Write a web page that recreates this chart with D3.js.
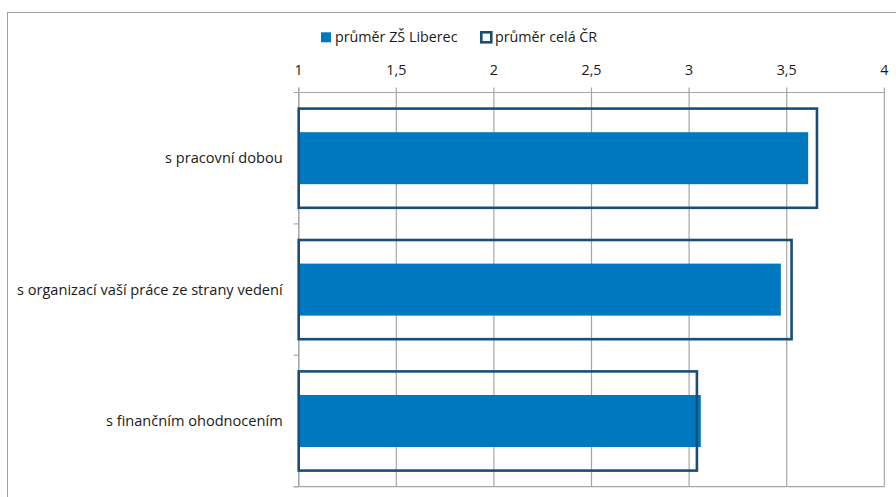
<!DOCTYPE html>
<html><head><meta charset="utf-8">
<script src="https://cdn.jsdelivr.net/npm/d3@7"></script>
<style>body{margin:0;background:#fff}svg{display:block}text{font-family:"Open Sans","Noto Sans",sans-serif;fill:#1a1a1a}</style>
</head><body>
<svg id="c" width="896" height="497"></svg>
<script>
const categories = ["s pracovní dobou", "s organizací vaší práce ze strany vedení", "s finančním ohodnocením"];
const liberec = [3.61, 3.47, 3.06];
const cr = [3.655, 3.525, 3.04];
const seriesNames = ["průměr ZŠ Liberec", "průměr celá ČR"];
const tickValues = [1, 1.5, 2, 2.5, 3, 3.5, 4];
const tickLabels = ["1", "1,5", "2", "2,5", "3", "3,5", "4"];

const svg = d3.select("#c");
const fillCol = "#0078C0", outCol = "#1A4E78", gridCol = "#A6A6A6";
const L = 298.7, R = 884.3, T = 92.5, B = 486.7;

const x = d3.scaleLinear().domain([1, 4]).range([L, R]);
const y = d3.scaleBand().domain(categories).range([T, B]).padding(0);

// chart border
svg.append("rect").attr("x", 7.5).attr("y", 12.5).attr("width", 900).attr("height", 500)
  .attr("fill", "none").attr("stroke", "#A0A0A0").attr("stroke-width", 1);

// gridlines + top ticks
const g = svg.append("g");
tickValues.forEach((v, i) => {
  g.append("line").attr("x1", x(v)).attr("x2", x(v)).attr("y1", T - 5).attr("y2", B)
    .attr("stroke", gridCol).attr("stroke-width", 1.2);
  g.append("text").attr("x", x(v)).attr("y", 75).attr("text-anchor", "middle")
    .attr("font-size", 14.3).text(tickLabels[i]);
});
g.append("line").attr("x1", L - 5).attr("x2", R).attr("y1", T).attr("y2", T).attr("stroke", gridCol).attr("stroke-width", 1.2);
g.append("line").attr("x1", L - 5).attr("x2", R).attr("y1", B).attr("y2", B).attr("stroke", gridCol).attr("stroke-width", 1.2);
g.append("line").attr("x1", L).attr("x2", L).attr("y1", T - 5).attr("y2", B).attr("stroke", gridCol).attr("stroke-width", 1.4);
categories.forEach((c, i) => {
  const yy = y(c) + y.bandwidth();
  g.append("line").attr("x1", L - 5).attr("x2", L).attr("y1", yy).attr("y2", yy).attr("stroke", gridCol).attr("stroke-width", 1.2);
});

const bw = y.bandwidth();
svg.append("g").selectAll("rect").data(categories).join("rect")
  .attr("x", x(1)).attr("y", d => y(d) + bw / 2 - 26)
  .attr("width", (d, i) => x(liberec[i]) - x(1)).attr("height", 52)
  .attr("fill", fillCol);

svg.append("g").selectAll("rect").data(categories).join("rect")
  .attr("x", x(1)).attr("y", d => y(d) + bw / 2 - 49.6)
  .attr("width", (d, i) => x(cr[i]) - x(1)).attr("height", 99.2)
  .attr("fill", "none").attr("stroke", outCol).attr("stroke-width", 2.6);

svg.append("g").selectAll("text").data(categories).join("text")
  .attr("x", 282.7).attr("y", d => y(d) + bw / 2).attr("dy", "0.35em")
  .attr("text-anchor", "end").attr("font-size", 14.6).text(d => d);

const lg = svg.append("g");
lg.append("rect").attr("x", 321).attr("y", 32.3).attr("width", 10).attr("height", 10).attr("fill", fillCol);
lg.append("text").attr("x", 335).attr("y", 42.3).attr("font-size", 14.3).text(seriesNames[0]);
lg.append("rect").attr("x", 481.3).attr("y", 32.3).attr("width", 10).attr("height", 10)
  .attr("fill", "#fff").attr("stroke", outCol).attr("stroke-width", 2.6);
lg.append("text").attr("x", 495).attr("y", 42.3).attr("font-size", 14.3).text(seriesNames[1]);
</script>
</body></html>
